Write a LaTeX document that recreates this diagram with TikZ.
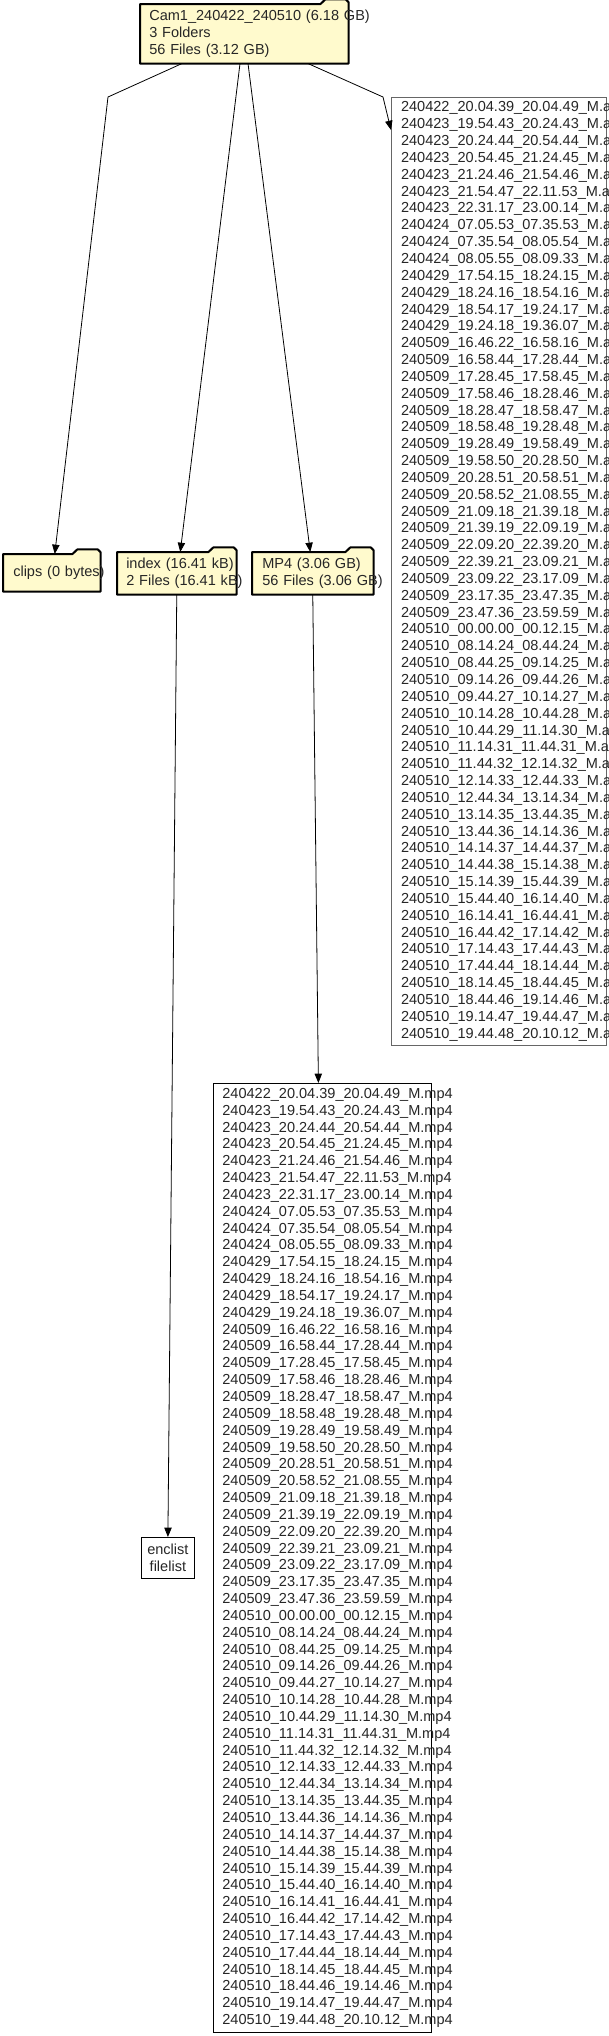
\documentclass[tikz,border=0pt]{standalone}
\usepackage{fontspec}
\setmainfont{Liberation Sans}
\usetikzlibrary{arrows.meta,backgrounds,calc}

\definecolor{folderfill}{RGB}{255,250,205}

\newcommand{\recnames}[1]{%
240422\_20.04.39\_20.04.49\_M.#1\\
240423\_19.54.43\_20.24.43\_M.#1\\
240423\_20.24.44\_20.54.44\_M.#1\\
240423\_20.54.45\_21.24.45\_M.#1\\
240423\_21.24.46\_21.54.46\_M.#1\\
240423\_21.54.47\_22.11.53\_M.#1\\
240423\_22.31.17\_23.00.14\_M.#1\\
240424\_07.05.53\_07.35.53\_M.#1\\
240424\_07.35.54\_08.05.54\_M.#1\\
240424\_08.05.55\_08.09.33\_M.#1\\
240429\_17.54.15\_18.24.15\_M.#1\\
240429\_18.24.16\_18.54.16\_M.#1\\
240429\_18.54.17\_19.24.17\_M.#1\\
240429\_19.24.18\_19.36.07\_M.#1\\
240509\_16.46.22\_16.58.16\_M.#1\\
240509\_16.58.44\_17.28.44\_M.#1\\
240509\_17.28.45\_17.58.45\_M.#1\\
240509\_17.58.46\_18.28.46\_M.#1\\
240509\_18.28.47\_18.58.47\_M.#1\\
240509\_18.58.48\_19.28.48\_M.#1\\
240509\_19.28.49\_19.58.49\_M.#1\\
240509\_19.58.50\_20.28.50\_M.#1\\
240509\_20.28.51\_20.58.51\_M.#1\\
240509\_20.58.52\_21.08.55\_M.#1\\
240509\_21.09.18\_21.39.18\_M.#1\\
240509\_21.39.19\_22.09.19\_M.#1\\
240509\_22.09.20\_22.39.20\_M.#1\\
240509\_22.39.21\_23.09.21\_M.#1\\
240509\_23.09.22\_23.17.09\_M.#1\\
240509\_23.17.35\_23.47.35\_M.#1\\
240509\_23.47.36\_23.59.59\_M.#1\\
240510\_00.00.00\_00.12.15\_M.#1\\
240510\_08.14.24\_08.44.24\_M.#1\\
240510\_08.44.25\_09.14.25\_M.#1\\
240510\_09.14.26\_09.44.26\_M.#1\\
240510\_09.44.27\_10.14.27\_M.#1\\
240510\_10.14.28\_10.44.28\_M.#1\\
240510\_10.44.29\_11.14.30\_M.#1\\
240510\_11.14.31\_11.44.31\_M.#1\\
240510\_11.44.32\_12.14.32\_M.#1\\
240510\_12.14.33\_12.44.33\_M.#1\\
240510\_12.44.34\_13.14.34\_M.#1\\
240510\_13.14.35\_13.44.35\_M.#1\\
240510\_13.44.36\_14.14.36\_M.#1\\
240510\_14.14.37\_14.44.37\_M.#1\\
240510\_14.44.38\_15.14.38\_M.#1\\
240510\_15.14.39\_15.44.39\_M.#1\\
240510\_15.44.40\_16.14.40\_M.#1\\
240510\_16.14.41\_16.44.41\_M.#1\\
240510\_16.44.42\_17.14.42\_M.#1\\
240510\_17.14.43\_17.44.43\_M.#1\\
240510\_17.44.44\_18.14.44\_M.#1\\
240510\_18.14.45\_18.44.45\_M.#1\\
240510\_18.44.46\_19.14.46\_M.#1\\
240510\_19.14.47\_19.44.47\_M.#1\\
240510\_19.44.48\_20.10.12\_M.#1}

\begin{document}
\begin{tikzpicture}[x=0.75pt, y=-0.75pt,
		every node/.style={font=\fontsize{10.9}{12.63}\selectfont, text=black!85},
		folder/.style={anchor=north west, inner xsep=6.75pt, inner ysep=0pt, align=left},
		listbox/.style={draw, anchor=north west, inner xsep=6.75pt, inner ysep=0pt, align=left, line width=0.6pt},
		link/.style={line width=0.6pt, -{Triangle[length=7pt, width=5.5pt]}}]
		\useasboundingbox (0, 0) rectangle (609, 2036);
		
		% folders
		\node[folder, text width=142.5pt, minimum height=44.25pt] (root) at (140, 4)
			{Cam1\_240422\_240510~(6.18~GB)\\3~Folders\\56~Files~(3.12~GB)};
		\node[folder, inner xsep=7.5pt, text width=57.75pt, minimum height=27.75pt] (clips) at (3, 554)
			{clips~(0~bytes)};
		\node[folder, text width=75.75pt, minimum height=31.5pt] (index) at (117, 552)
			{index~(16.41~kB)\\2~Files~(16.41~kB)};
		\node[folder, inner xsep=7.5pt, text width=75.75pt, minimum height=31.5pt] (mp4) at (252, 552)
			{MP4~(3.06~GB)\\56~Files~(3.06~GB)};
		
		\begin{pgfonlayer}{background}
			\foreach \f in {root, clips, index, mp4}
				\draw[line width=1.5pt, line join=round, fill=folderfill] (\f.south west) -- (\f.north west)
					-- ([xshift=-21pt]\f.north east) -- ([xshift=-17.5pt, yshift=3.4pt]\f.north east)
					-- ([xshift=-2pt, yshift=3.4pt]\f.north east) -- ([yshift=1.4pt]\f.north east)
					-- (\f.south east) -- cycle;
		\end{pgfonlayer}
		
		% file lists
		\node[listbox, draw=black!60, inner xsep=7.25pt, text width=146.75pt, minimum height=711pt] (rootlist) at (391, 97)
			{\recnames{a}};
		\node[listbox, text width=150pt, minimum height=711.75pt] (mp4list) at (213, 1083)
			{\recnames{mp4}};
		\node[draw, line width=0.6pt, anchor=north west, inner sep=0pt, align=center,
			minimum width=39.75pt, minimum height=30.75pt] (enclist) at (141, 1537) {enclist\\filelist};
		
		\coordinate (kneeclips) at (108, 97);
		\coordinate (kneelist) at (383, 97);
		
		\draw[link] ($(root.south west)+(42, 0)$) -- (kneeclips) -- ($(clips.north)+(3, 0)$);
		\draw[link] ($(root.south west)+(100, 0)$) -- ($(index.north)+(3.5, 0)$);
		\draw[link] ($(root.south west)+(108, 0)$) -- ($(mp4.north)+(-2.5, 0)$);
		\draw[link] ($(root.south west)+(168, 0)$) -- (kneelist) -- ($(rootlist.north west)+(0, 33)$);
		\draw[link] (index.south) -- (enclist.north);
		\draw[link] (mp4.south) -- ($(mp4list.north)+(-4, 0)$);
	\end{tikzpicture}
\end{document}
